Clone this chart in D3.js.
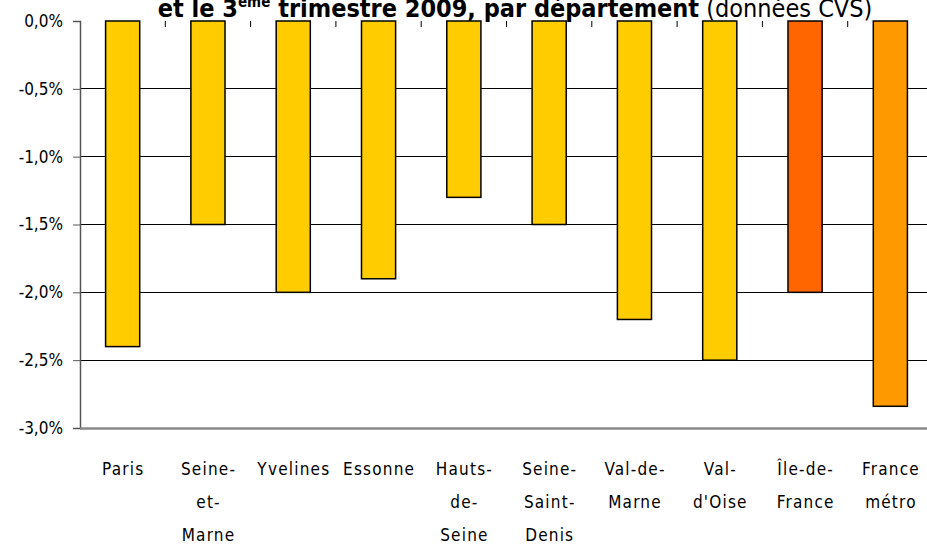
<!DOCTYPE html>
<html><head><meta charset="utf-8">
<script src="https://cdn.jsdelivr.net/npm/d3@7"></script>
<style>
html,body{margin:0;padding:0;background:#fff;}
svg{display:block;font-family:"DejaVu Sans Condensed","DejaVu Sans",Verdana,sans-serif;}
</style></head>
<body><svg id="chart" width="927" height="544"></svg>
<script>
const categories = [
  ["Paris"], ["Seine-","et-","Marne"], ["Yvelines"], ["Essonne"], ["Hauts-","de-","Seine"],
  ["Seine-","Saint-","Denis"], ["Val-de-","Marne"], ["Val-","d'Oise"], ["Île-de-","France"], ["France","métro"]
];
const values = [-2.4, -1.5, -2.0, -1.9, -1.3, -1.5, -2.2, -2.5, -2.0, -2.84];
const barColors = ["#FFCC00","#FFCC00","#FFCC00","#FFCC00","#FFCC00","#FFCC00","#FFCC00","#FFCC00","#FF6600","#FF9900"];
const yTicks = [0, -0.5, -1.0, -1.5, -2.0, -2.5, -3.0];
const yTickLabels = ["0,0%","-0,5%","-1,0%","-1,5%","-2,0%","-2,5%","-3,0%"];

(function(){
const FONT = '"DejaVu Sans Condensed","DejaVu Sans",sans-serif';
const svg = d3.select("#chart");
const mLeft = 80, mRight = 933, mTop = 21, mBottom = 428;
const keys = categories.map((c,i)=>i);
const x = d3.scaleBand().domain(keys).range([mLeft,mRight]).paddingInner(0.6).paddingOuter(0.3);
const y = d3.scaleLinear().domain([-3,0]).range([mBottom,mTop]);

// gridlines
svg.append("g").selectAll("line").data(yTicks.filter(t=>t!==0 && t!==-3)).join("line")
  .attr("x1",mLeft).attr("x2",927).attr("y1",d=>y(d)).attr("y2",d=>y(d))
  .attr("stroke","#000").attr("stroke-width",1).attr("shape-rendering","crispEdges");

// y axis
const yAxis = d3.axisLeft(y).tickValues(yTicks).tickSize(7).tickPadding(10)
  .tickFormat((d,i)=>yTickLabels[i]);
const ga = svg.append("g").attr("transform",`translate(${mLeft},0)`).call(yAxis);
ga.select(".domain").attr("stroke","#555").attr("stroke-width",1.5);
ga.selectAll(".tick line").attr("stroke","#555").attr("stroke-width",1);
ga.selectAll(".tick text").attr("font-size",17).attr("fill","#000").attr("font-family",FONT);

// bottom axis line
svg.append("line").attr("x1",mLeft).attr("x2",927).attr("y1",mBottom+0.5).attr("y2",mBottom+0.5)
  .attr("stroke","#888").attr("stroke-width",2.5);

// bars
const step = x.step();
svg.append("g").selectAll("rect").data(values).join("rect")
  .attr("x",(d,i)=>x(i)).attr("width",x.bandwidth())
  .attr("y",y(0)).attr("height",d=>y(d)-y(0))
  .attr("fill",(d,i)=>barColors[i]).attr("stroke","#000").attr("stroke-width",1.5);

// category ticks at zero line
svg.append("g").selectAll("line").data(keys.slice(0,-1)).join("line")
  .attr("x1",i=>x(i)+x.bandwidth()/2+step/2).attr("x2",i=>x(i)+x.bandwidth()/2+step/2)
  .attr("y1",mTop).attr("y2",mTop+6).attr("stroke","#000").attr("stroke-width",1);

// category labels
const lab = svg.append("g").selectAll("text").data(categories).join("text")
  .attr("text-anchor","middle").attr("font-size",17).attr("font-family",FONT)
  .attr("letter-spacing","1.2px").attr("fill","#000");
lab.each(function(lines,i){
  const t = d3.select(this);
  lines.forEach((l,j)=>{
    t.append("tspan").attr("x",x(i)+x.bandwidth()/2+0.6).attr("y",475+j*33).text(l);
  });
});

// title
const title = svg.append("text").attr("x",515).attr("y",16.5).attr("text-anchor","middle")
  .attr("font-size",25).attr("font-family",FONT).attr("fill","#000");
title.append("tspan").attr("font-weight","bold").text("et le 3");
title.append("tspan").attr("font-weight","bold").attr("font-size",15).attr("dy",-10).text("ème");
title.append("tspan").attr("font-weight","bold").attr("dy",10).text(" trimestre 2009, par département");
title.append("tspan").text(" (données CVS)");
})();
</script></body></html>
